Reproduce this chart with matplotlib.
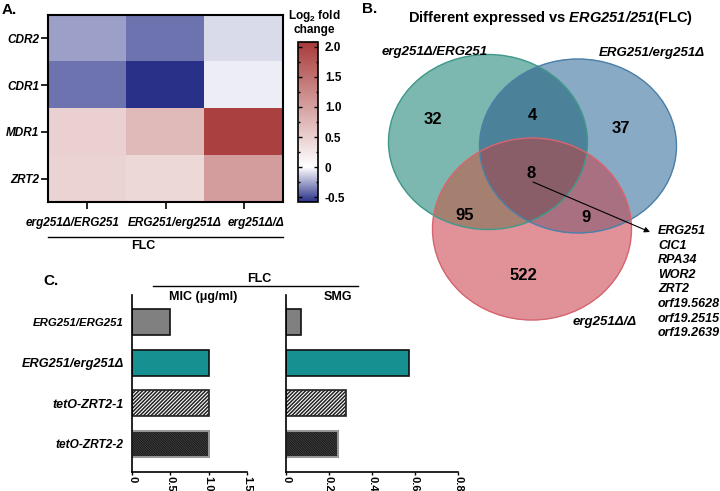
import numpy as np
import matplotlib
matplotlib.use('Agg')
import matplotlib.pyplot as plt
import matplotlib.transforms as mtransforms
from matplotlib.colors import LinearSegmentedColormap, Normalize, to_rgb
from matplotlib.patches import Ellipse
from matplotlib.lines import Line2D
from matplotlib.ticker import MultipleLocator

plt.rcParams['font.family'] = ['Liberation Sans', 'DejaVu Sans']
plt.rcParams['font.weight'] = 'bold'
plt.rcParams['mathtext.fontset'] = 'custom'
plt.rcParams['mathtext.rm'] = 'Liberation Sans:bold'
plt.rcParams['mathtext.bf'] = 'Liberation Sans:bold'
plt.rcParams['mathtext.bfit'] = 'Liberation Sans:italic:bold'
plt.rcParams['hatch.linewidth'] = 1.1

# A. log2 fold change heatmap
genes = ['CDR2', 'CDR1', 'MDR1', 'ZRT2']
strains = ['erg251Δ/ERG251', 'ERG251/erg251Δ', 'erg251Δ/Δ']
log2fc = np.array([[-0.26, -0.39, -0.10],
                   [-0.39, -0.58, -0.04],
                   [0.50, 0.73, 2.00],
                   [0.46, 0.41, 1.03]])
cbar_ticks = [-0.5, 0, 0.5, 1.0, 1.5, 2.0]
cbar_labels = ['-0.5', '0', '0.5', '1.0', '1.5', '2.0']

# B. venn counts (region code = membership in the three sets)
venn_sets = ['erg251Δ/ERG251', 'ERG251/erg251Δ', 'erg251Δ/Δ']
venn_counts = {'100': 32, '010': 37, '001': 522, '110': 4,
               '101': 95, '011': 9, '111': 8}
common_genes = ['ERG251', 'CIC1', 'RPA34', 'WOR2', 'ZRT2',
                'orf19.5628', 'orf19.2515', 'orf19.2639']

# C. MIC and SMG bars
bar_strains = ['ERG251/ERG251', 'ERG251/erg251Δ', 'tetO-ZRT2-1', 'tetO-ZRT2-2']
mic = [0.5, 1.0, 1.0, 1.0]
smg = [0.07, 0.57, 0.28, 0.24]

W, H = 720, 491
fig = plt.figure(figsize=(7.2, 4.91), dpi=100)


def box(l, t, r, b):
    return [l / W, 1 - b / H, (r - l) / W, (b - t) / H]


def ftext(x, y, s, **kw):
    kw.setdefault('ha', 'center')
    kw.setdefault('va', 'center')
    return fig.text(x / W, 1 - y / H, s, **kw)


def fline(x0, x1, y, lw=1.0):
    fig.add_artist(Line2D([x0 / W, x1 / W], [1 - y / H] * 2, color='k', lw=lw))


# overlay in pixel coordinates for the venn diagram
av = fig.add_axes([0, 0, 1, 1])
av.set_xlim(0, W)
av.set_ylim(H, 0)
av.axis('off')

# ---- A ----
vmin, vmax = -0.58, 2.08
cmap = LinearSegmentedColormap.from_list(
    'fc', [(0, '#283088'), (-vmin / (vmax - vmin), '#ffffff'), (1, '#a83a3a')])
norm = Normalize(vmin, vmax)

ax = fig.add_axes(box(48, 15, 283, 202))
im = ax.imshow(log2fc, cmap=cmap, norm=norm, aspect='auto')
ax.set_yticks(range(len(genes)))
ax.set_yticklabels(genes, style='italic', fontsize=8.5)
ax.set_xticks(range(len(strains)))
ax.set_xticklabels(strains, style='italic', fontsize=8.5)
ax.tick_params(axis='both', length=5, width=1.2)
ax.tick_params(axis='x', pad=6)
ax.tick_params(axis='y', pad=1.5)
for lbl, dx in zip(ax.get_xticklabels(), [-15, 9, 12]):
    lbl.set_transform(lbl.get_transform() +
                      mtransforms.ScaledTranslation(dx / 100, 0, fig.dpi_scale_trans))
for s in ax.spines.values():
    s.set_linewidth(1.5)

cax = fig.add_axes(box(298, 42, 318, 202))
cb = fig.colorbar(im, cax=cax, ticks=cbar_ticks)
cb.ax.set_yticklabels(cbar_labels, fontsize=8.5)
cb.ax.yaxis.set_minor_locator(MultipleLocator(0.25))
cb.ax.tick_params(which='both', direction='in', left=True, right=True, width=1)
cb.ax.tick_params(which='major', length=3, pad=5)
cb.ax.tick_params(which='minor', length=1.5)
cb.outline.set_linewidth(1.2)
ftext(314, 22, 'Log$_{2}$ fold\nchange', fontsize=8.5, linespacing=1.1)

fline(48, 283, 237)
ftext(143, 246, 'FLC', fontsize=9)
ftext(2, 10, 'A.', fontsize=11, ha='left')

# ---- B ----
ftext(362, 9, 'B.', fontsize=11, ha='left')
ftext(550, 18, r'Different expressed vs $\mathbfit{ERG251/251}$(FLC)', fontsize=10.5)

ellipses = [((488, 142), 199, 175, '#3d9a8a'),
            ((578, 146), 197, 174, '#4a80aa'),
            ((532, 229), 199, 182, '#d9646f')]
region_colors = {'100': '#7db8b0', '010': '#8aaac4', '001': '#e09298',
                 '110': '#4d8299', '101': '#a68070', '011': '#a87080',
                 '111': '#8a5e6a'}

# fill the venn regions on a fine pixel grid
x0, x1, y0, y1 = 380, 685, 50, 325
gx, gy = np.meshgrid(np.arange(x0, x1, 0.5) + 0.25, np.arange(y0, y1, 0.5) + 0.25)
inside = [((gx - c[0]) / (w / 2)) ** 2 + ((gy - c[1]) / (h / 2)) ** 2 <= 1
          for (c, w, h, ec) in ellipses]
rgba = np.zeros(gx.shape + (4,))
for code, col in region_colors.items():
    m = np.ones(gx.shape, bool)
    for k, bit in enumerate(code):
        m &= inside[k] if bit == '1' else ~inside[k]
    rgba[m] = to_rgb(col) + (1,)
av.imshow(rgba, extent=(x0, x1, y1, y0), interpolation='antialiased', zorder=1)
av.set_xlim(0, W)
av.set_ylim(H, 0)
for (c, w, h, ec) in ellipses:
    av.add_patch(Ellipse(c, w, h, facecolor='none', edgecolor=ec, lw=1.0, zorder=2))

region_pos = {'100': (433, 119), '110': (532, 115), '010': (621, 128),
              '111': (531, 174), '101': (465, 216), '011': (586, 217),
              '001': (523, 275)}
for code, n in venn_counts.items():
    x, y = region_pos[code]
    av.text(x, y, str(n), fontsize=12, ha='center', va='center', zorder=3)

set_label_pos = [(435, 52), (652, 53), (605, 322)]
for name, (x, y) in zip(venn_sets, set_label_pos):
    av.text(x, y, name, fontsize=9.5, style='italic', ha='center', va='center', zorder=3)

av.annotate('', xy=(650, 232), xytext=(533, 182), zorder=3,
            arrowprops=dict(arrowstyle='-|>', lw=0.8, color='k', mutation_scale=8,
                            shrinkA=0, shrinkB=0))
for i, g in enumerate(common_genes):
    av.text(658, 231 + i * 14.6, g, fontsize=9, style='italic', ha='left', va='center')

# ---- C ----
ftext(43, 281, 'C.', fontsize=11, ha='left')
ftext(259, 279, 'FLC', fontsize=9)
fline(153, 358, 286)
ftext(203, 297, 'MIC (μg/ml)', fontsize=9)
ftext(338, 297, 'SMG', fontsize=9)

y = np.arange(len(bar_strains))
faces = ['#808080', '#169090', 'white', '#d8d8d8']
hatches = [None, None, '/' * 9, '\\' * 14]
edges = ['#111111', '#111111', '#222222', '#1a1a1a']
label_sizes = [8.2, 9.2, 9.0, 8.6]


def draw_bars(ax, vals, xmax, ticks, ticklabels):
    for i in range(len(vals)):
        ax.barh(y[i], vals[i], height=0.64, color=faces[i], hatch=hatches[i],
                edgecolor=edges[i], linewidth=1.2)
    # lighter outline on the last bar
    ax.barh(y[-1], vals[-1], height=0.64, fill=False, edgecolor='#9a9a9a', linewidth=1.4)
    ax.set_xlim(0, xmax)
    ax.set_ylim(3.69, -0.66)
    ax.set_xticks(ticks)
    ax.set_xticklabels(ticklabels, rotation=-90, fontsize=8, va='top', ha='center')
    ax.tick_params(axis='x', length=2, width=1, pad=0.8)
    ax.tick_params(axis='y', length=0, pad=6)
    for s in ['top', 'right']:
        ax.spines[s].set_visible(False)
    for s in ['left', 'bottom']:
        ax.spines[s].set_linewidth(1.2)
    ax.patch.set_alpha(0)


ax1 = fig.add_axes(box(132, 295, 247, 472))
draw_bars(ax1, mic, 1.5, [0, 0.5, 1.0, 1.5], ['0', '0.5', '1.0', '1.5'])
ax1.set_yticks(y)
ax1.set_yticklabels(bar_strains, style='italic')
for lbl, fs in zip(ax1.get_yticklabels(), label_sizes):
    lbl.set_fontsize(fs)

ax2 = fig.add_axes(box(286, 295, 458, 472))
draw_bars(ax2, smg, 0.8, [0, 0.2, 0.4, 0.6, 0.8], ['0', '0.2', '0.4', '0.6', '0.8'])
ax2.set_yticks([])

fig.savefig('out.png', dpi=100)
